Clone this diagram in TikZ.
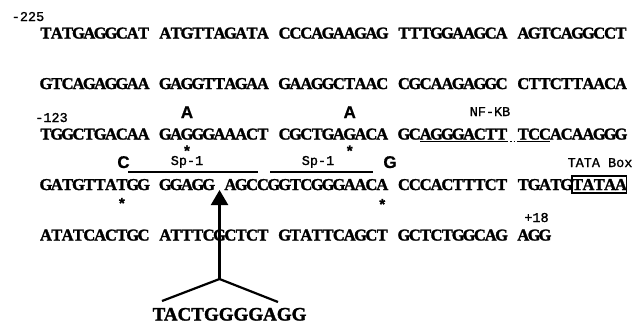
\documentclass[tikz,border=0pt]{standalone}
\usepackage{fontspec}
\setmainfont{Liberation Serif}
\newfontfamily\seqfont{Liberation Serif}[BoldFeatures={FakeBold=1.6}]
\newfontfamily\labfont{Liberation Mono}[FakeBold=1.2]
\newfontfamily\mutfont{Liberation Sans}[BoldFeatures={FakeBold=0.8}]
\usetikzlibrary{arrows.meta}

% fixed pitch for the bases: each letter sits in its own slot, '.' is an empty slot
\newlength\seqpitch \setlength\seqpitch{10.85pt}
\newcommand\seqslot[1]{\if.#1\hspace*{\seqpitch}\else\makebox[\seqpitch][c]{#1}\fi}
\def\seqstop{\seqstop}
\newcommand\seqloop[1]{\ifx\seqstop#1\else\seqslot{#1}\expandafter\seqloop\fi}
\newcommand\seqrow[1]{\seqloop#1\seqstop}
% x of the left edge of slot #1
\newcommand\cx[1]{40.5+10.85*(#1)}

\tikzset{
  seqline/.style={anchor=base west, inner sep=0pt, outer sep=0pt,
    font=\seqfont\bfseries\fontsize{16.5pt}{16.5pt}\selectfont},
  poslabel/.style={anchor=base, inner sep=0pt, outer sep=0pt,
    font=\labfont\fontsize{13.5pt}{13.5pt}\selectfont},
  mutbase/.style={anchor=base, inner sep=0pt, outer sep=0pt,
    font=\mutfont\bfseries\fontsize{17pt}{17pt}\selectfont},
  mutmark/.style={anchor=north, inner sep=0pt, outer sep=0pt,
    font=\mutfont\bfseries\fontsize{15pt}{15pt}\selectfont},
  siteline/.style={line width=1.3pt},
  insert/.style={line width=2.2pt},
}

\begin{document}
\begin{tikzpicture}[x=1pt, y=-1pt]
\useasboundingbox (0,0) rectangle (642,325);

% sequence rows
\node[seqline] (row1) at (40.5,38.5) {\seqrow{TATGAGGCAT.ATGTTAGATA.CCCAGAAGAG.TTTGGAAGCA.AGTCAGGCCT}};
\node[seqline] (row2) at (40.5,89) {\seqrow{GTCAGAGGAA.GAGGTTAGAA.GAAGGCTAAC.CGCAAGAGGC.CTTCTTAACA}};
\node[seqline] (row3) at (40.5,139.5) {\seqrow{TGGCTGACAA.GAGGGAAACT.CGCTGAGACA.GCAGGGACTT.TCCACAAGGG}};
\node[seqline] (row4) at (40.5,190) {\seqrow{GATGTTATGG.GGAGG.AGCCGGTCGGGAACA.CCCACTTTCT.TGATGTATAA}};
\node[seqline] (row5) at (40.5,240.5) {\seqrow{ATATCACTGC.ATTTCGCTCT.GTATTCAGCT.GCTCTGGCAG.AGG}};

% position numbers
\node[poslabel] (p225) at (28,21) {-225};
\node[poslabel] (p123) at (51.5,122) {-123};
\node[poslabel] (p18) at (536.5,222) {+18};

% base changes and marked positions
\node[mutbase] (mA1) at ({\cx{13.5}},118) {A};
\node[mutbase] (mA2) at ({\cx{28.5}},118) {A};
\node[mutbase] (mC) at (123.5,168) {C};
\node[mutbase] (mG) at (390,168) {G};
\node[mutmark] (s1) at ({\cx{13.5}},145.5) {*};
\node[mutmark] (s2) at ({\cx{28.5}},145.5) {*};
\node[mutmark] (s3) at ({\cx{7.5}},198) {*};
\node[mutmark] (s4) at ({\cx{31.5}},199) {*};

% NF-kB site
\node[poslabel] (nfkb) at (490,116) {NF-KB};
\coordinate (nf1) at ({\cx{35}},141.5);
\coordinate (nf2) at ({\cx{43}},141.5);
\coordinate (nf3) at ({\cx{44}},141.5);
\coordinate (nf4) at ({\cx{47}},141.5);
\draw[siteline] (nf1) -- (nf2);
\draw[siteline, dotted] (nf2) -- (nf3);
\draw[siteline] (nf3) -- (nf4);

% Sp-1 sites
\node[poslabel] (sp1a) at (187,165) {Sp-1};
\node[poslabel] (sp1b) at (318,165) {Sp-1};
\coordinate (spa1) at (128,172);
\coordinate (spa2) at (258,172);
\coordinate (spb1) at (270,172);
\coordinate (spb2) at (373,172);
\draw[siteline] (spa1) -- (spa2);
\draw[siteline] (spb1) -- (spb2);

% TATA box
\node[poslabel] (tatalab) at (600,167) {TATA Box};
\draw[line width=1.8pt] ({\cx{49}},176) rectangle ({\cx{54}},193);

% inserted sequence
\node[anchor=base, inner sep=0pt, font=\seqfont\bfseries\fontsize{19pt}{19pt}\selectfont]
  (ins) at (229.5,320.5) {TACTGGGGAGG};
\coordinate (tip) at ({\cx{16.5}},190);
\coordinate (join) at ({\cx{16.5}},279);
\coordinate (armL) at (162,301);
\coordinate (armR) at (278,302);
\draw[insert, -{Triangle[length=15pt,width=17pt]}] (join) -- (tip);
\draw[insert] (armL) -- (join) -- (armR);
\end{tikzpicture}
\end{document}
